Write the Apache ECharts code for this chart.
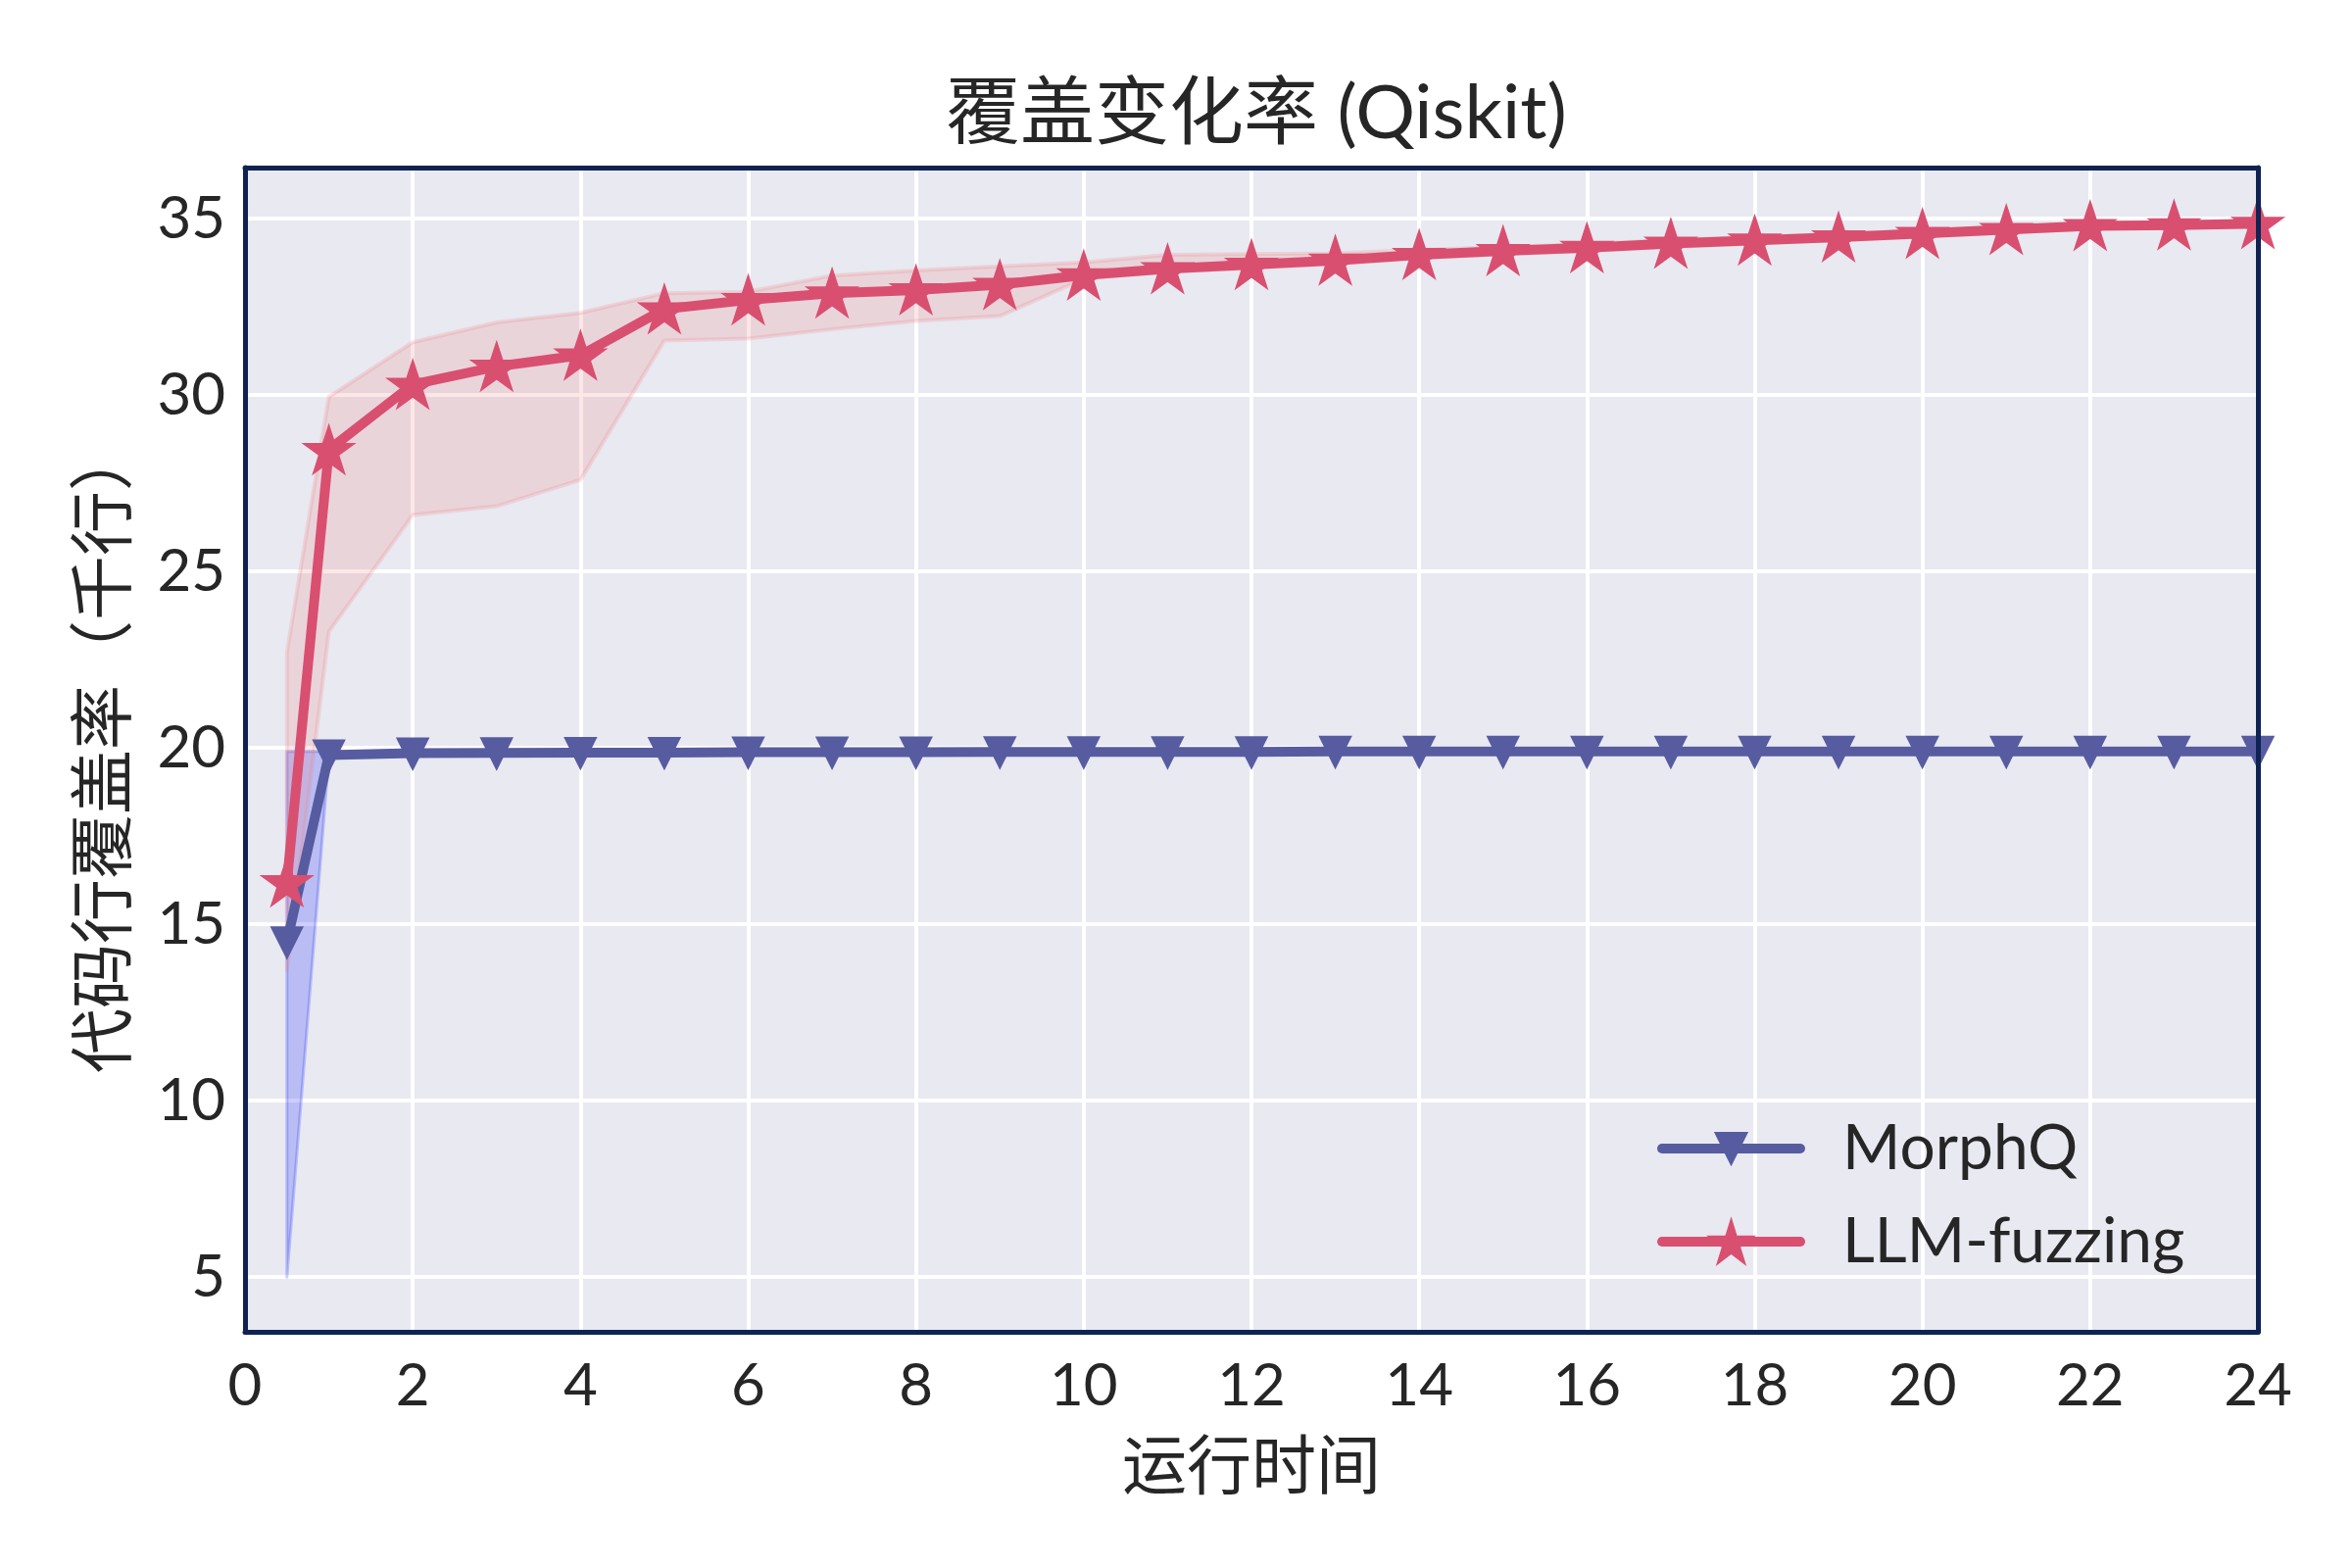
<!DOCTYPE html>
<html>
<head>
<meta charset="utf-8">
<script src="https://cdn.jsdelivr.net/npm/echarts@6/dist/echarts.min.js"></script>
<style>
html,body{margin:0;padding:0;background:#fff;}
#chart{width:2400px;height:1600px;}
</style>
</head>
<body>
<div id="chart"></div>
<script>
// ---- data ----
var hours = [0.5, 1, 2, 3, 4, 5, 6, 7, 8, 9, 10, 11, 12, 13, 14, 15, 16, 17, 18, 19, 20, 21, 22, 23, 24];
var morphMean  = [14.5, 19.8, 19.85, 19.86, 19.87, 19.87, 19.88, 19.88, 19.88, 19.89, 19.89, 19.89, 19.89, 19.9, 19.9, 19.9, 19.9, 19.9, 19.9, 19.9, 19.9, 19.9, 19.9, 19.9, 19.9];
var morphUpper = [19.9, 19.9, 19.9, 19.9, 19.9, 19.9, 19.91, 19.91, 19.91, 19.92, 19.92, 19.92, 19.92, 19.93, 19.93, 19.93, 19.93, 19.93, 19.93, 19.93, 19.93, 19.93, 19.93, 19.93, 19.93];
var morphLower = [5.0, 19.75, 19.8, 19.82, 19.84, 19.84, 19.85, 19.85, 19.85, 19.86, 19.86, 19.86, 19.86, 19.87, 19.87, 19.87, 19.87, 19.87, 19.87, 19.87, 19.87, 19.87, 19.87, 19.87, 19.87];
var llmMean  = [16.2, 28.45, 30.3, 30.81, 31.13, 32.44, 32.7, 32.89, 32.98, 33.13, 33.4, 33.58, 33.7, 33.82, 33.98, 34.09, 34.18, 34.3, 34.39, 34.48, 34.58, 34.69, 34.8, 34.82, 34.86];
var llmUpper = [22.7, 29.95, 31.5, 32.06, 32.33, 32.89, 32.93, 33.39, 33.53, 33.65, 33.76, 33.98, 34.0, 34.02, 34.12, 34.2, 34.28, 34.4, 34.48, 34.57, 34.66, 34.76, 34.88, 34.9, 34.95];
var llmLower = [13.7, 23.3, 26.6, 26.85, 27.6, 31.55, 31.6, 31.87, 32.1, 32.24, 33.3, 33.5, 33.6, 33.72, 33.88, 34.0, 34.08, 34.2, 34.3, 34.39, 34.49, 34.6, 34.72, 34.74, 34.78];
var seriesNames = ['MorphQ', 'LLM-fuzzing'];
var titleText = '覆盖变化率 (Qiskit)';
var xTitle = '运行时间';
var yTitle = '代码行覆盖率（千行）';

function pairs(xs, ys) { return xs.map(function (x, i) { return [x, ys[i]]; }); }
function triples(xs, lo, hi) { return xs.map(function (x, i) { return [x, lo[i], hi[i]]; }); }

var STAR = 'path://M100 0 L122.45 69.1 L195.11 69.1 L136.33 111.8 L158.78 180.9 L100 138.2 L41.22 180.9 L63.67 111.8 L4.89 69.1 L77.55 69.1 Z';
var FONT = 'Lato, "Noto Sans CJK SC", sans-serif';
var TXT = '#262626';
var NAVY = '#0f2352';
var RED = '#d94f70';
var BLUE = '#575ca0';

// band polygon drawn through the axis scales (api.coord)
function bandRenderer(xs, lo, hi, fill, stroke, lw) {
  return function (params, api) {
    if (params.dataIndex !== 0) return null;
    var pts = [];
    for (var i = 0; i < xs.length; i++) pts.push(api.coord([xs[i], hi[i]]));
    for (var j = xs.length - 1; j >= 0; j--) pts.push(api.coord([xs[j], lo[j]]));
    return {
      type: 'polygon',
      shape: {points: pts},
      style: {fill: fill, stroke: stroke, lineWidth: lw, lineJoin: 'round'}
    };
  };
}

var chart = echarts.init(document.getElementById('chart'), null, {renderer: 'canvas'});

var legendText = {fontFamily: FONT, fontSize: 64, lineHeight: 70, color: TXT, padding: [0, 0, 0, 38]};

function borderAxis(pos) {
  return {
    type: 'value', min: 0, max: 24, position: pos, z: 10,
    axisLine: {show: true, onZero: false, lineStyle: {color: NAVY, width: 5}},
    axisTick: {show: false}, axisLabel: {show: false}, splitLine: {show: false}
  };
}
function borderAxisY(pos) {
  return {
    type: 'value', min: 3.45, max: 36.45, position: pos, z: 10,
    axisLine: {show: true, onZero: false, lineStyle: {color: NAVY, width: 5}},
    axisTick: {show: false}, axisLabel: {show: false}, splitLine: {show: false}
  };
}

var option = {
  animation: false,
  backgroundColor: '#ffffff',
  title: {
    text: titleText, left: 1277, top: 73, textAlign: 'center',
    textStyle: {fontFamily: FONT, fontSize: 76, fontWeight: 'normal', color: TXT}
  },
  grid: {left: 250, right: 96, top: 171, bottom: 241, show: true, backgroundColor: '#e8e9f1', borderWidth: 0},
  legend: [{
    data: [seriesNames[0]], orient: 'vertical', left: 1691, top: 1137, padding: 0, z: 20,
    itemWidth: 141, itemHeight: 40,
    lineStyle: {width: 10, cap: 'round'},
    textStyle: legendText
  }, {
    data: [seriesNames[1]], orient: 'vertical', left: 1691, top: 1232, padding: 0, z: 20,
    itemWidth: 141, itemHeight: 56,
    lineStyle: {width: 10, cap: 'round'},
    textStyle: legendText
  }],
  xAxis: [{
    type: 'value', min: 0, max: 24, interval: 2, position: 'bottom',
    name: xTitle, nameLocation: 'middle', nameGap: 106,
    nameTextStyle: {fontFamily: FONT, fontSize: 66, color: TXT},
    axisLine: {show: false},
    axisTick: {show: false},
    axisLabel: {fontFamily: FONT, fontSize: 60, color: TXT, margin: 26},
    splitLine: {show: true, lineStyle: {color: '#ffffff', width: 4}}
  }, borderAxis('top'), borderAxis('bottom')],
  yAxis: [{
    type: 'value', min: 3.45, max: 36.45, position: 'left',
    name: yTitle, nameLocation: 'middle', nameGap: 110, nameRotate: 90,
    nameTextStyle: {fontFamily: FONT, fontSize: 66, color: TXT},
    axisLine: {show: false},
    axisTick: {show: false},
    axisLabel: {fontFamily: FONT, fontSize: 60, color: TXT, margin: 20, showMinLabel: false, showMaxLabel: false},
    splitLine: {show: true, lineStyle: {color: '#ffffff', width: 4}}
  }, borderAxisY('right'), borderAxisY('left')],
  series: [
    {
      name: 'morphBand', type: 'custom', silent: true, z: 1,
      data: triples(hours, morphLower, morphUpper),
      encode: {x: 0, y: [1, 2]},
      renderItem: bandRenderer(hours, morphLower, morphUpper, 'rgba(20,30,255,0.22)', 'rgba(20,30,255,0.22)', 3)
    },
    {
      name: 'llmBand', type: 'custom', silent: true, z: 1,
      data: triples(hours, llmLower, llmUpper),
      encode: {x: 0, y: [1, 2]},
      renderItem: bandRenderer(hours, llmLower, llmUpper, 'rgba(240,128,128,0.2)', 'rgba(240,128,128,0.22)', 4)
    },
    {
      name: seriesNames[0], type: 'line', data: pairs(hours, morphMean), z: 3,
      symbol: 'triangle', symbolRotate: 180, symbolSize: 28, showSymbol: true,
      lineStyle: {color: BLUE, width: 10, cap: 'round', join: 'round'},
      itemStyle: {color: BLUE, borderColor: BLUE, borderWidth: 4}
    },
    {
      name: seriesNames[1], type: 'line', data: pairs(hours, llmMean), z: 4,
      symbol: STAR, symbolKeepAspect: true, symbolSize: 44, showSymbol: true,
      lineStyle: {color: RED, width: 10, cap: 'round', join: 'round'},
      itemStyle: {color: RED, borderColor: RED, borderWidth: 4}
    }
  ]
};
chart.setOption(option);
</script>
</body>
</html>
